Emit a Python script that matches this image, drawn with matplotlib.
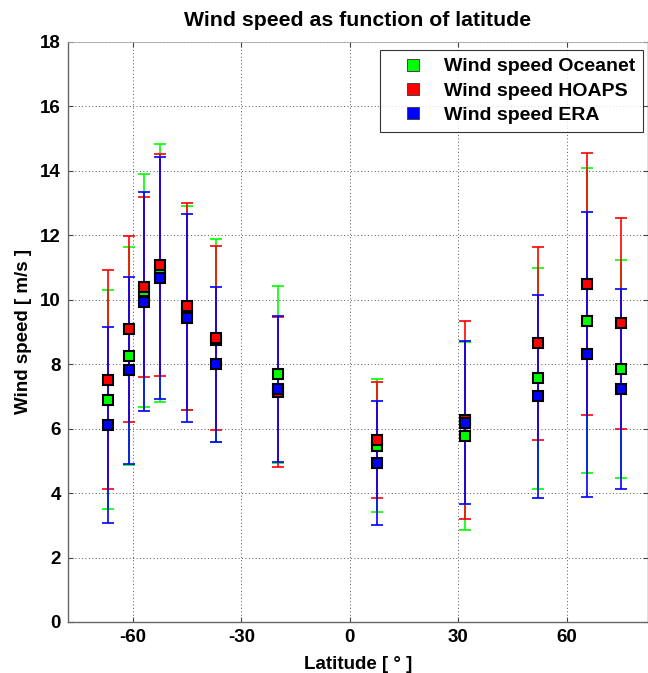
import matplotlib
matplotlib.use('Agg')
import matplotlib.pyplot as plt
from matplotlib.lines import Line2D

plt.rcParams['font.family'] = ['Liberation Sans', 'DejaVu Sans']
plt.rcParams['font.weight'] = 'bold'
plt.rcParams['axes.unicode_minus'] = False

# latitude of each band (deg)
lat = [-67, -61, -57, -52.5, -45, -37, -20, 7.5, 32, 52, 65.5, 75]

# mean wind speed and std per source (m/s)
oceanet = [6.89, 8.24, 10.28, 10.82, 9.74, 8.74, 7.68, 5.47, 5.77, 7.56, 9.35, 7.86]
oceanet_err = [3.40, 3.38, 3.62, 4.00, 3.17, 3.15, 2.75, 2.07, 2.92, 3.42, 4.74, 3.38]
hoaps = [7.52, 9.09, 10.39, 11.08, 9.79, 8.81, 7.14, 5.65, 6.27, 8.64, 10.49, 9.26]
hoaps_err = [3.40, 2.89, 2.80, 3.45, 3.20, 2.85, 2.33, 1.79, 3.06, 3.00, 4.07, 3.26]
era = [6.11, 7.81, 9.93, 10.67, 9.43, 7.99, 7.22, 4.93, 6.18, 7.00, 8.30, 7.24]
era_err = [3.05, 2.90, 3.40, 3.75, 3.24, 2.40, 2.27, 1.91, 2.53, 3.14, 4.42, 3.10]

series = [
    ('Wind speed Oceanet', oceanet, oceanet_err, '#00ff00'),
    ('Wind speed HOAPS', hoaps, hoaps_err, '#ff0000'),
    ('Wind speed ERA', era, era_err, '#0000ff'),
]

xticks = [-60, -30, 0, 30, 60]
yticks = list(range(0, 19, 2))

fig = plt.figure(figsize=(6.48, 6.73), dpi=100)
ax = fig.add_axes([0.1049, 0.0758, 0.8951, 0.8622])

# error bars first, markers on top
for i, (name, y, err, c) in enumerate(series):
    ax.errorbar(lat, y, yerr=err, fmt='none', ecolor=c, elinewidth=1.2,
                capsize=4.3, capthick=1.2, zorder=3 + i * 0.1)
handles = []
for i, (name, y, err, c) in enumerate(series):
    ax.plot(lat, y, 's', ms=7.8, mfc=c, mec='black', mew=1.5, zorder=5 + i * 0.1)
    handles.append(Line2D([], [], ls='none', marker='s', ms=8.3, mfc=c,
                          mec='#444444', mew=0.7))

ax.set_xlim(-78, 82.5)
ax.set_ylim(0, 18)
ax.set_xticks(xticks)
ax.set_yticks(yticks)
ax.tick_params(direction='in', length=3.6, width=0.8, top=True, right=True,
               labelsize=13.5, pad=5, color='#444444')
for lab in ax.get_xticklabels() + ax.get_yticklabels():
    lab.set_fontweight('bold')

ax.grid(True, color='#555555', ls=(0, (1, 2.5)), lw=0.7)
for s in ['left', 'bottom', 'right']:
    ax.spines[s].set_color('#666666')
    ax.spines[s].set_linewidth(1.0)
ax.spines['top'].set_color('#aaaaaa')
ax.spines['top'].set_linewidth(0.6)

ax.set_title('Wind speed as function of latitude', fontsize=15.3,
             fontweight='bold', pad=11)
ax.set_xlabel('Latitude [ ° ]', fontsize=13.5, fontweight='bold', labelpad=7)
ax.set_ylabel('Wind speed [ m/s ]', fontsize=13.5, fontweight='bold', labelpad=6)

leg = ax.legend(handles, [s[0] for s in series], loc='upper right',
                bbox_to_anchor=(0.991, 0.9857), borderaxespad=0,
                fontsize=14, frameon=True, fancybox=False, borderpad=0.4,
                handlelength=2.6, handletextpad=0.3, labelspacing=0.35)
leg.get_frame().set_edgecolor('black')
leg.get_frame().set_linewidth(0.8)
for t in leg.get_texts():
    t.set_fontweight('bold')

fig.savefig('out.png', dpi=100)
